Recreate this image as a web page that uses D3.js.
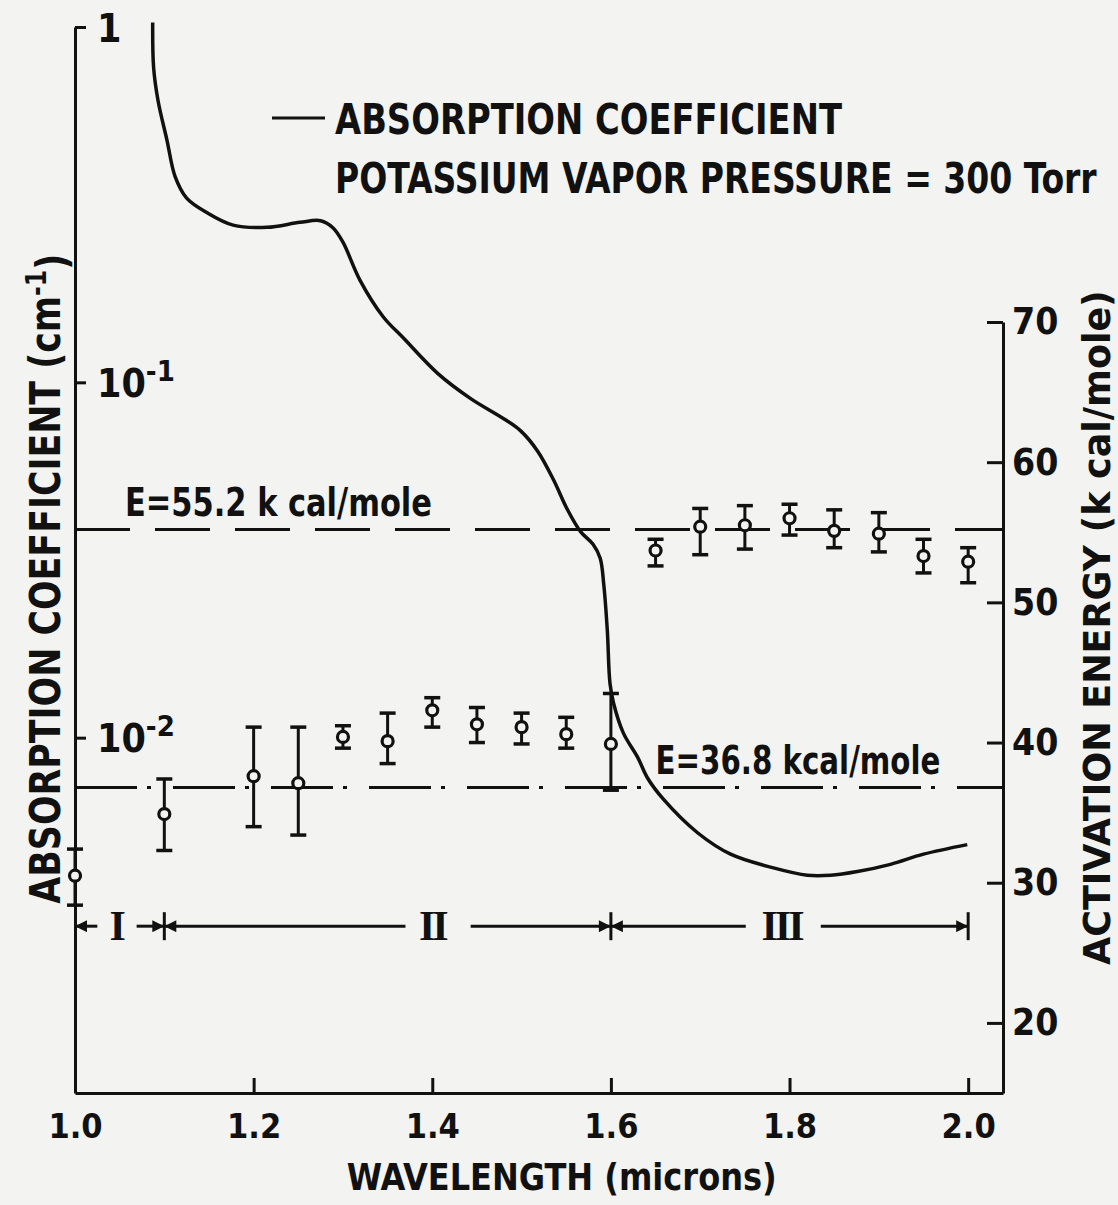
<!DOCTYPE html>
<html>
<head>
<meta charset="utf-8">
<script src="https://cdn.jsdelivr.net/npm/d3@7"></script>
<style>
  body { margin: 0; background: #f3f3f1; }
  svg { display: block; }
  text { font-family: "DejaVu Sans Condensed", "DejaVu Sans", sans-serif; font-weight: bold; fill: #111; }
  .axis path, .axis line { stroke: #111; stroke-width: 3; }
</style>
</head>
<body>
<div class="chart-container"></div>
<script>
// absorption coefficient curve (cm^-1)
const curveWavelength = [1.087, 1.088, 1.093, 1.103, 1.112, 1.125, 1.148, 1.177, 1.215, 1.252, 1.275, 1.289, 1.300, 1.319, 1.345, 1.368, 1.406, 1.443, 1.480, 1.499, 1.518, 1.536, 1.551, 1.566, 1.580, 1.588, 1.592, 1.596, 1.599, 1.603, 1.614, 1.630, 1.641, 1.659, 1.697, 1.734, 1.782, 1.820, 1.846, 1.876, 1.913, 1.950, 1.999];
const curveAbsorption = [1.03, 0.77, 0.62, 0.48, 0.38, 0.33, 0.30, 0.277, 0.273, 0.282, 0.285, 0.272, 0.248, 0.194, 0.153, 0.133, 0.106, 0.090, 0.079, 0.073, 0.064, 0.053, 0.044, 0.038, 0.035, 0.032, 0.027, 0.020, 0.0142, 0.0125, 0.0103, 0.0088, 0.0077, 0.0067, 0.0054, 0.0047, 0.0043, 0.0041, 0.0041, 0.0042, 0.0044, 0.0047, 0.0050];

// activation energy (kcal/mole) with error bars
const pointWavelength = [1.0, 1.1, 1.2, 1.25, 1.3, 1.35, 1.4, 1.45, 1.5, 1.55, 1.6, 1.65, 1.7, 1.75, 1.8, 1.85, 1.9, 1.95, 2.0];
const pointEnergy = [30.5, 34.9, 37.6, 37.1, 40.4, 40.1, 42.3, 41.3, 41.1, 40.6, 39.9, 53.7, 55.4, 55.5, 56.0, 55.1, 54.9, 53.3, 52.9];
const energyHigh = [32.4, 37.4, 41.1, 41.1, 41.2, 42.1, 43.2, 42.5, 42.1, 41.8, 43.5, 54.5, 56.7, 56.9, 57.0, 56.6, 56.4, 54.5, 53.9];
const energyLow = [28.4, 32.3, 34.0, 33.4, 39.6, 38.5, 41.1, 40.0, 39.9, 39.6, 36.6, 52.6, 53.4, 53.8, 54.8, 53.9, 53.6, 52.1, 51.4];

// reference energy levels
const levelEnergy = [55.2, 36.8];
const levelLabels = ['E=55.2 k cal/mole', 'E=36.8 kcal/mole'];

// axis ticks
const xTicks = [1.0, 1.2, 1.4, 1.6, 1.8, 2.0];
const absTicks = [1, 0.1, 0.01];
const absTickBase = ['1', '10', '10'];
const absTickExp = ['', '-1', '-2'];
const energyTicks = [20, 30, 40, 50, 60, 70];

// wavelength regions I, II, III
const regionBounds = [1.0, 1.1, 1.6, 2.0];
const regionLabels = ['I', 'II', 'III'];
const regionLabelAt = [1.046, 1.4, 1.791];
const regionGapFrom = [1.025, 1.37, 1.751];
const regionGapTo = [1.069, 1.443, 1.835];
const regionEnergy = 26.9;

const svg_width = 1118;
const svg_height = 1205;
const chart_margin = {
    top: 27,
    right: 115,
    bottom: 112,
    left: 75
};
const chart_width = svg_width - (chart_margin.left + chart_margin.right);
const chart_height = svg_height - (chart_margin.top + chart_margin.bottom);

const root = d3.select('.chart-container')
    .append('svg')
    .attr('width', svg_width)
    .attr('height', svg_height);
const this_svg = root.append('g')
    .attr('transform', `translate(${chart_margin.left},${chart_margin.top})`);

// squeeze a text sideways so it spans the given width (lettering is narrow)
function fitWidth(sel, width, place) {
    sel.each(function () {
        const k = width / this.getComputedTextLength();
        d3.select(this).attr('transform', `${place} scale(${k},1)`);
    });
}

// arrow heads for the region markers
root.append('defs').append('marker')
    .attr('id', 'arrow')
    .attr('viewBox', '0 0 10 10')
    .attr('refX', 10)
    .attr('refY', 5)
    .attr('markerUnits', 'userSpaceOnUse')
    .attr('markerWidth', 16)
    .attr('markerHeight', 12)
    .attr('orient', 'auto')
    .append('path')
    .attr('d', 'M0,0L10,5L0,10z')
    .style('fill', '#111');

//scales
const xScale = d3.scaleLinear([1.0, 2.039], [0, chart_width]);
const yAbs = d3.scaleLog([1e-3, 1], [chart_height, 0]);
const yEnergy = d3.scaleLinear([15, 70], [chart_height, 295]);

//axes
const xAxis = d3.axisBottom(xScale)
    .tickValues(xTicks)
    .tickFormat(d3.format('.1f'))
    .tickSizeInner(-15)
    .tickSizeOuter(0)
    .tickPadding(21);
const xAxisDraw = this_svg.append('g')
    .attr('class', 'x axis')
    .attr('transform', `translate(0,${chart_height})`)
    .call(xAxis);
xAxisDraw.selectAll('text')
    .style('font-size', '34px');
xAxisDraw.selectAll('.tick line')
    .filter(d => d === 1.0)
    .remove();

const yAxisLeft = d3.axisRight(yAbs)
    .tickValues(absTicks)
    .tickSizeInner(11)
    .tickSizeOuter(0)
    .tickPadding(11);
const yAxisLeftDraw = this_svg.append('g')
    .attr('class', 'y axis')
    .call(yAxisLeft);
yAxisLeftDraw.selectAll('text')
    .text(null)
    .attr('dy', '0.36em')
    .style('font-size', '39px')
    .each(function (d, i) {
        const t = d3.select(this);
        t.append('tspan').text(absTickBase[i]);
        t.append('tspan')
            .text(absTickExp[i])
            .attr('dy', '-0.55em')
            .style('font-size', '29px');
    });

const yAxisRight = d3.axisRight(yEnergy)
    .tickValues(energyTicks)
    .tickSizeInner(-16)
    .tickSizeOuter(0)
    .tickPadding(9);
const yAxisRightDraw = this_svg.append('g')
    .attr('class', 'y axis')
    .attr('transform', `translate(${chart_width},0)`)
    .call(yAxisRight);
yAxisRightDraw.selectAll('text')
    .style('font-size', '37px');

// axis titles
this_svg.append('text')
    .attr('text-anchor', 'middle')
    .style('font-size', '37px')
    .text('WAVELENGTH (microns)')
    .call(fitWidth, 430, `translate(${xScale(1.545)},${chart_height + 97})`);

const leftTitle = this_svg.append('text')
    .attr('text-anchor', 'middle')
    .style('font-size', '43px');
leftTitle.append('tspan').text('ABSORPTION COEFFICIENT (cm');
leftTitle.append('tspan').text('-1').attr('dy', '-0.5em').style('font-size', '29px');
leftTitle.append('tspan').text(')').attr('dy', '0.5em');
leftTitle.call(fitWidth, 650, `translate(${-15},${yAbs(0.028)}) rotate(-90)`);

this_svg.append('text')
    .attr('text-anchor', 'middle')
    .style('font-size', '37px')
    .text('ACTIVATION ENERGY (k cal/mole)')
    .call(fitWidth, 675, `translate(${chart_width + 107},${yEnergy(48.2)}) rotate(-90)`);

// reference lines
const levelDash = ['55,25', '62,10,4,22'];
this_svg.selectAll('.level')
    .data(levelEnergy)
    .enter()
    .append('line')
    .attr('class', 'level')
    .attr('x1', 0)
    .attr('x2', chart_width)
    .attr('y1', d => yEnergy(d))
    .attr('y2', d => yEnergy(d))
    .style('stroke', '#111')
    .style('stroke-width', 3)
    .style('stroke-dasharray', (d, i) => levelDash[i]);

const levelLabelAt = [1.056, 1.65];
const levelLabelWidth = [307, 285];
this_svg.selectAll('.level-label')
    .data(levelEnergy)
    .enter()
    .append('text')
    .attr('class', 'level-label')
    .style('font-size', '39px')
    .text((d, i) => levelLabels[i])
    .each(function (d, i) {
        d3.select(this).call(fitWidth, levelLabelWidth[i],
            `translate(${xScale(levelLabelAt[i])},${yEnergy(d) - 13})`);
    });

// absorption curve
const curveData = curveWavelength.map((w, i) => ({ w: w, a: curveAbsorption[i] }));
const line = d3.line()
    .x(d => xScale(d.w))
    .y(d => yAbs(d.a))
    .curve(d3.curveCatmullRom.alpha(0.5));
this_svg.append('path')
    .datum(curveData)
    .attr('d', line)
    .style('fill', 'none')
    .style('stroke', '#111')
    .style('stroke-width', 3.5);

// energy points with error bars
const pointData = pointWavelength.map((w, i) => ({
    w: w, e: pointEnergy[i], hi: energyHigh[i], lo: energyLow[i]
}));
const points = this_svg.selectAll('.point')
    .data(pointData)
    .enter()
    .append('g')
    .attr('class', 'point')
    .attr('transform', d => `translate(${xScale(d.w)},0)`);
points.append('line')
    .attr('y1', d => yEnergy(d.hi))
    .attr('y2', d => yEnergy(d.lo))
    .style('stroke', '#111')
    .style('stroke-width', 3);
points.append('line')
    .attr('x1', -8).attr('x2', 8)
    .attr('y1', d => yEnergy(d.hi))
    .attr('y2', d => yEnergy(d.hi))
    .style('stroke', '#111')
    .style('stroke-width', 3.5);
points.append('line')
    .attr('x1', -8).attr('x2', 8)
    .attr('y1', d => yEnergy(d.lo))
    .attr('y2', d => yEnergy(d.lo))
    .style('stroke', '#111')
    .style('stroke-width', 3.5);
points.append('circle')
    .attr('cy', d => yEnergy(d.e))
    .attr('r', 5.5)
    .style('fill', '#f3f3f1')
    .style('stroke', '#111')
    .style('stroke-width', 3.2);

// region markers
const regionY = yEnergy(regionEnergy);
const regions = this_svg.append('g').attr('class', 'regions');
regionLabels.forEach((label, i) => {
    regions.append('line')
        .attr('x1', xScale(regionGapFrom[i]))
        .attr('x2', xScale(regionBounds[i]))
        .attr('y1', regionY).attr('y2', regionY)
        .attr('marker-end', 'url(#arrow)')
        .style('stroke', '#111')
        .style('stroke-width', 3);
    regions.append('line')
        .attr('x1', xScale(regionGapTo[i]))
        .attr('x2', xScale(regionBounds[i + 1]))
        .attr('y1', regionY).attr('y2', regionY)
        .attr('marker-end', 'url(#arrow)')
        .style('stroke', '#111')
        .style('stroke-width', 3);
    regions.append('text')
        .attr('x', xScale(regionLabelAt[i]))
        .attr('y', regionY + 14)
        .attr('text-anchor', 'middle')
        .style('font-family', '"Liberation Serif", "DejaVu Serif", serif')
        .style('font-size', '42px')
        .style('letter-spacing', '-3px')
        .text(label);
});
regions.selectAll('.bound')
    .data(regionBounds.slice(1))
    .enter()
    .append('line')
    .attr('class', 'bound')
    .attr('x1', d => xScale(d))
    .attr('x2', d => xScale(d))
    .attr('y1', regionY - 14)
    .attr('y2', regionY + 14)
    .style('stroke', '#111')
    .style('stroke-width', 3);

// legend
this_svg.append('line')
    .attr('x1', 197).attr('x2', 250)
    .attr('y1', 91).attr('y2', 91)
    .style('stroke', '#111')
    .style('stroke-width', 3);
const legendLines = ['ABSORPTION COEFFICIENT', 'POTASSIUM VAPOR PRESSURE = 300 Torr'];
const legendWidths = [507, 762];
this_svg.selectAll('.legend-text')
    .data(legendLines)
    .enter()
    .append('text')
    .attr('class', 'legend-text')
    .style('font-size', '43px')
    .text(d => d)
    .each(function (d, i) {
        d3.select(this).call(fitWidth, legendWidths[i], `translate(260,${107 + i * 59})`);
    });
</script>
</body>
</html>
